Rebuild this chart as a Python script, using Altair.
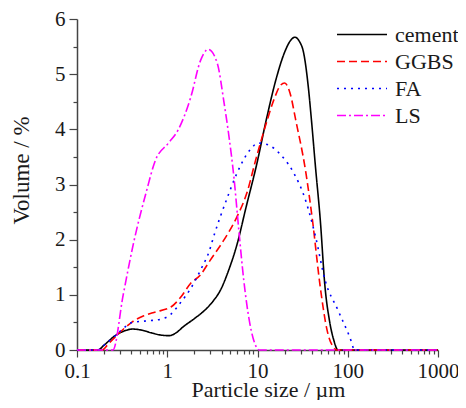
import altair as alt
import pandas as pd

series = ["cement", "GGBS", "FA", "LS"]
colors = ["#000000", "#FF0000", "#0000FF", "#FF00FF"]
dashes = [[1, 0], [8, 4], [2, 5], [9, 3, 2, 3]]

cement_x = [0.1, 0.17, 0.2, 0.27, 0.34, 0.41, 0.52, 0.67, 0.85, 1.05, 1.25, 1.5, 2.0, 2.6, 3.2, 3.9,
            4.8, 5.9, 7.5, 9.75, 12.5, 16, 20, 23, 26, 29, 32.5, 36.6, 39.6, 44, 49.6, 56, 62.6, 70, 78, 1000]
cement_y = [0, 0, 0.09, 0.27, 0.35, 0.38, 0.36, 0.31, 0.27, 0.26, 0.31, 0.42, 0.57, 0.72, 0.88, 1.09,
            1.45, 1.9, 2.6, 3.35, 4.17, 4.9, 5.4, 5.6, 5.67, 5.6, 5.38, 4.76, 4.17, 3.3, 2.36, 1.14, 0.54, 0.18, 0, 0]

ggbs_x = [0.1, 0.19, 0.22, 0.29, 0.35, 0.41, 0.55, 0.74, 1.1, 1.4, 1.82, 2.3, 3.0, 4.27, 5.9, 7.6,
          9.75, 12.5, 15.3, 18, 20, 23, 26.5, 34, 40.6, 49.6, 59, 70, 75, 1000]
ggbs_y = [0, 0, 0.1, 0.3, 0.42, 0.51, 0.62, 0.69, 0.78, 0.95, 1.21, 1.35, 1.63, 2.0, 2.41, 2.84,
          3.5, 4.11, 4.55, 4.8, 4.84, 4.65, 4.17, 3.26, 2.36, 1.14, 0.36, 0.04, 0, 0]

fa_x = [0.1, 0.17, 0.2, 0.27, 0.32, 0.41, 0.62, 0.86, 1.1, 1.42, 1.78, 2.34, 2.93, 3.33, 3.86, 4.6,
        5.9, 8.2, 10.2, 12.5, 19, 25, 34, 44, 56, 78, 105, 120, 1000]
fa_y = [0, 0, 0.09, 0.27, 0.38, 0.5, 0.53, 0.56, 0.65, 0.87, 1.09, 1.45, 1.8, 2.1, 2.41, 2.75,
        3.2, 3.62, 3.75, 3.73, 3.5, 3.22, 2.72, 2.05, 1.27, 0.72, 0.24, 0, 0]

ls_x = [0.1, 0.25, 0.325, 0.43, 0.58, 0.74, 1.03, 1.32, 1.82, 2.34, 2.85, 3.58, 4.27, 4.84, 5.48,
        6.21, 7.04, 8.2, 9.75, 10.5, 1000]
ls_y = [0, 0, 1.0, 1.99, 2.84, 3.44, 3.75, 3.99, 4.58, 5.25, 5.45, 5.2, 4.47, 3.86, 3.13,
        2.17, 1.27, 0.49, 0.05, 0, 0]

x_major = [0.1, 1, 10, 100, 1000]
x_minor = [m * 10 ** e for e in range(-1, 3) for m in range(2, 10)]
y_major = [0, 1, 2, 3, 4, 5, 6]
y_minor = [0.5, 1.5, 2.5, 3.5, 4.5, 5.5]

rows = []
for name, xs, ys in [("cement", cement_x, cement_y), ("GGBS", ggbs_x, ggbs_y),
                     ("FA", fa_x, fa_y), ("LS", ls_x, ls_y)]:
    for i, (x, y) in enumerate(zip(xs, ys)):
        rows.append({"size": x, "vol": y, "series": name, "order": i})
df = pd.DataFrame(rows)

FONT = "Liberation Serif"
INK = "#1a1a1a"
AXIS = "#444444"
xscale = alt.Scale(type="log", domain=[0.1, 1000])
yscale = alt.Scale(domain=[0, 6])

common = dict(grid=False, domainColor=AXIS, domainWidth=1.5, tickColor=AXIS, tickWidth=1.2,
              labelFont=FONT, labelFontSize=21, labelColor=INK, labelFlush=False,
              titleFont=FONT, titleFontWeight="normal", titleColor=INK)

legend = alt.Legend(title=None, orient="none", legendX=259, legendY=2, padding=0, rowPadding=0,
                    symbolType="stroke", symbolSize=2500, symbolStrokeWidth=1.6, clipHeight=27,
                    labelFont=FONT, labelFontSize=22, labelColor=INK, labelOffset=7)

lines = alt.Chart(df).mark_line(strokeWidth=1.6, interpolate="monotone").encode(
    x=alt.X("size:Q", scale=xscale,
            axis=alt.Axis(values=x_major, format="~g", title="Particle size / µm",
                          orient="bottom", tickSize=7, labelPadding=3, titleFontSize=22,
                          titleX=191, titleY=46, titleBaseline="alphabetic", **common)),
    y=alt.Y("vol:Q", scale=yscale,
            axis=alt.Axis(values=y_major, format="d", title="Volume / %",
                          orient="left", tickSize=8, labelPadding=4, titleFontSize=23,
                          titleX=-49, titleY=151, titleBaseline="alphabetic", **common)),
    color=alt.Color("series:N", scale=alt.Scale(domain=series, range=colors), legend=legend),
    strokeDash=alt.StrokeDash("series:N", scale=alt.Scale(domain=series, range=dashes), legend=legend),
    order="order:Q",
)

minor = alt.Chart(df).mark_point(opacity=0).encode(
    x=alt.X("size:Q", scale=xscale,
            axis=alt.Axis(values=x_minor, labels=False, domain=False, title=None, grid=False,
                          orient="bottom", tickSize=4, tickColor=AXIS, tickWidth=1.2)),
    y=alt.Y("vol:Q", scale=yscale,
            axis=alt.Axis(values=y_minor, labels=False, domain=False, title=None, grid=False,
                          orient="left", tickSize=4, tickColor=AXIS, tickWidth=1.2)),
)

chart = alt.layer(lines, minor).resolve_axis(x="independent", y="independent").properties(
    width=361, height=331,
    autosize=alt.AutoSizeParams(type="none"),
    padding={"left": 69, "top": 11, "right": 20, "bottom": 50},
).configure(font=FONT).configure_view(stroke=None)

chart.save("out.html", embed_options={"renderer": "svg", "actions": False})
